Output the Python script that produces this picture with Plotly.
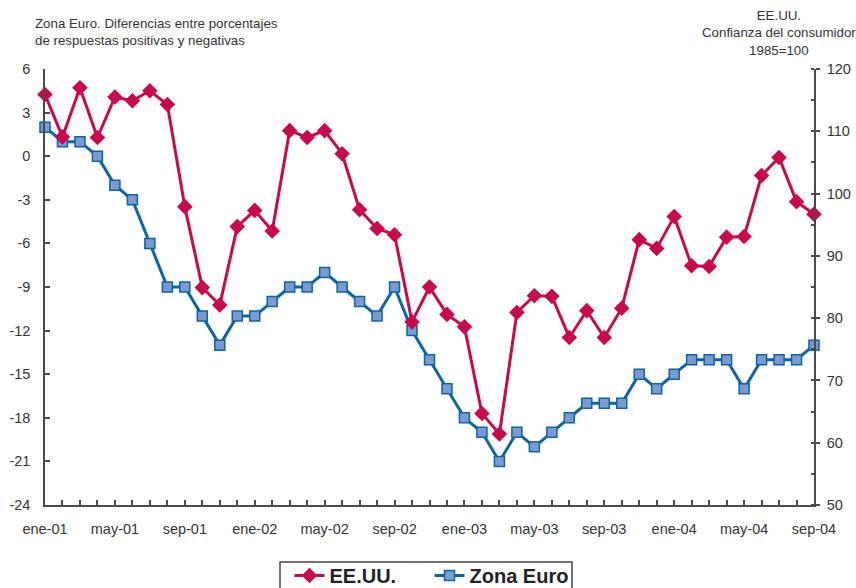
import plotly.graph_objects as go

months = ["ene-01","feb-01","mar-01","abr-01","may-01","jun-01","jul-01","ago-01","sep-01","oct-01","nov-01","dic-01",
          "ene-02","feb-02","mar-02","abr-02","may-02","jun-02","jul-02","ago-02","sep-02","oct-02","nov-02","dic-02",
          "ene-03","feb-03","mar-03","abr-03","may-03","jun-03","jul-03","ago-03","sep-03","oct-03","nov-03","dic-03",
          "ene-04","feb-04","mar-04","abr-04","may-04","jun-04","jul-04","ago-04","sep-04"]

zona_euro = [2, 1, 1, 0, -2, -3, -6, -9, -9, -11, -13, -11,
             -11, -10, -9, -9, -8, -9, -10, -11, -9, -12, -14, -16,
             -18, -19, -21, -19, -20, -19, -18, -17, -17, -17, -15, -16,
             -15, -14, -14, -14, -16, -14, -14, -14, -13]

eeuu = [115.9, 109.1, 117.0, 109.0, 115.5, 114.9, 116.5, 114.3, 97.9, 84.9, 82.1, 94.7,
        97.3, 94.0, 110.1, 109.0, 110.1, 106.4, 97.4, 94.4, 93.4, 79.4, 85.0, 80.6,
        78.6, 64.7, 61.4, 80.9, 83.6, 83.5, 76.9, 81.2, 76.9, 81.6, 92.6, 91.2,
        96.3, 88.4, 88.3, 93.0, 93.1, 102.9, 105.8, 98.7, 96.7]

x_tick_labels = ["ene-01","may-01","sep-01","ene-02","may-02","sep-02","ene-03","may-03","sep-03","ene-04","may-04","sep-04"]
left_ticks = [6, 3, 0, -3, -6, -9, -12, -15, -18, -21, -24]
right_ticks = [120, 110, 100, 90, 80, 70, 60, 50]

RED = "#C8084F"
BLUE = "#0A64A6"
BLUE_FILL = "#7C9ACF"
AXIS = "#4a4a4a"
TXT = "#333333"
FONT = "Liberation Sans, Arial, sans-serif"

x = list(range(len(months)))
x_tick_pos = [months.index(m) for m in x_tick_labels]

fig = go.Figure()
fig.add_trace(go.Scatter(
    x=x, y=eeuu, name="EE.UU.", yaxis="y2", mode="lines+markers",
    line=dict(color=RED, width=3),
    marker=dict(symbol="diamond", size=12, color=RED, line=dict(width=0)),
    cliponaxis=False, hovertext=months))
fig.add_trace(go.Scatter(
    x=x, y=zona_euro, name="Zona Euro", yaxis="y", mode="lines+markers",
    line=dict(color=BLUE, width=3),
    marker=dict(symbol="square", size=10, color=BLUE_FILL, line=dict(color=BLUE, width=1.5)),
    cliponaxis=False, hovertext=months))

fig.update_layout(
    width=856, height=588,
    margin=dict(l=45, r=42, t=69, b=83, autoexpand=False),
    paper_bgcolor="white", plot_bgcolor="white",
    font=dict(family=FONT, color=TXT, size=14),
    showlegend=True,
    legend=dict(orientation="h", x=0.5, xanchor="center", y=-0.117, yanchor="top",
                borderwidth=0, bgcolor="rgba(0,0,0,0)",
                font=dict(size=20, color="#222222", family=FONT, weight="bold"),
                itemwidth=30, entrywidth=95, entrywidthmode="pixels"),
    shapes=[dict(type="rect", xref="paper", yref="paper",
                 x0=(280 - 45) / 769, x1=(572 - 45) / 769,
                 y0=(505 - 562) / 436, y1=(505 - 600) / 436,
                 line=dict(color="#444444", width=1.5), fillcolor="rgba(0,0,0,0)", layer="below")],
    xaxis=dict(range=[0, 44], tickmode="array", tickvals=x_tick_pos, ticktext=x_tick_labels,
               automargin=False,
               showline=True, linecolor=AXIS, linewidth=1.5, showgrid=False, zeroline=False,
               ticks="inside", ticklen=5, tickcolor=AXIS, tickwidth=1.5, ticklabelstandoff=10,
               minor=dict(dtick=1, ticks="inside", ticklen=5, tickcolor=AXIS, tickwidth=1.5),
               tickfont=dict(size=14.5, color=TXT)),
    yaxis=dict(range=[-24, 6], tickmode="array", tickvals=left_ticks, ticktext=[str(v) for v in left_ticks],
               automargin=False,
               showline=True, linecolor=AXIS, linewidth=1.5, showgrid=False, zeroline=False,
               ticks="inside", ticklen=5, tickcolor=AXIS, tickwidth=1.5, ticklabelstandoff=10,
               tickfont=dict(size=14.5, color=TXT)),
    yaxis2=dict(range=[50, 120], overlaying="y", side="right", tickmode="array", tickvals=right_ticks,
                ticktext=[str(v) for v in right_ticks], automargin=False,
                showline=True, linecolor=AXIS, linewidth=1.5, showgrid=False, zeroline=False,
                ticks="outside", ticklen=4, tickcolor=AXIS, tickwidth=1.5, ticklabelstandoff=4,
                minor=dict(dtick=5, tick0=50, ticks="inside", ticklen=3, tickcolor=AXIS, tickwidth=1.5),
                tickfont=dict(size=14.5, color=TXT)),
    annotations=[
        dict(text="Zona Euro. Diferencias entre porcentajes<br>de respuestas positivas y negativas",
             xref="paper", yref="paper", x=-0.0156, y=1.0436, xanchor="left", yanchor="bottom",
             align="left", showarrow=False, font=dict(size=13.3, color=TXT)),
        dict(text="EE.UU.<br>Confianza del consumidor<br>1985=100",
             xref="paper", yref="paper", x=0.9545, y=1.0206, xanchor="center", yanchor="bottom",
             align="center", showarrow=False, font=dict(size=13.3, color=TXT)),
    ],
)

fig.write_html("out.html", config={"displayModeBar": False},
               post_script="document.body.style.margin='0';document.body.style.overflow='hidden';")
